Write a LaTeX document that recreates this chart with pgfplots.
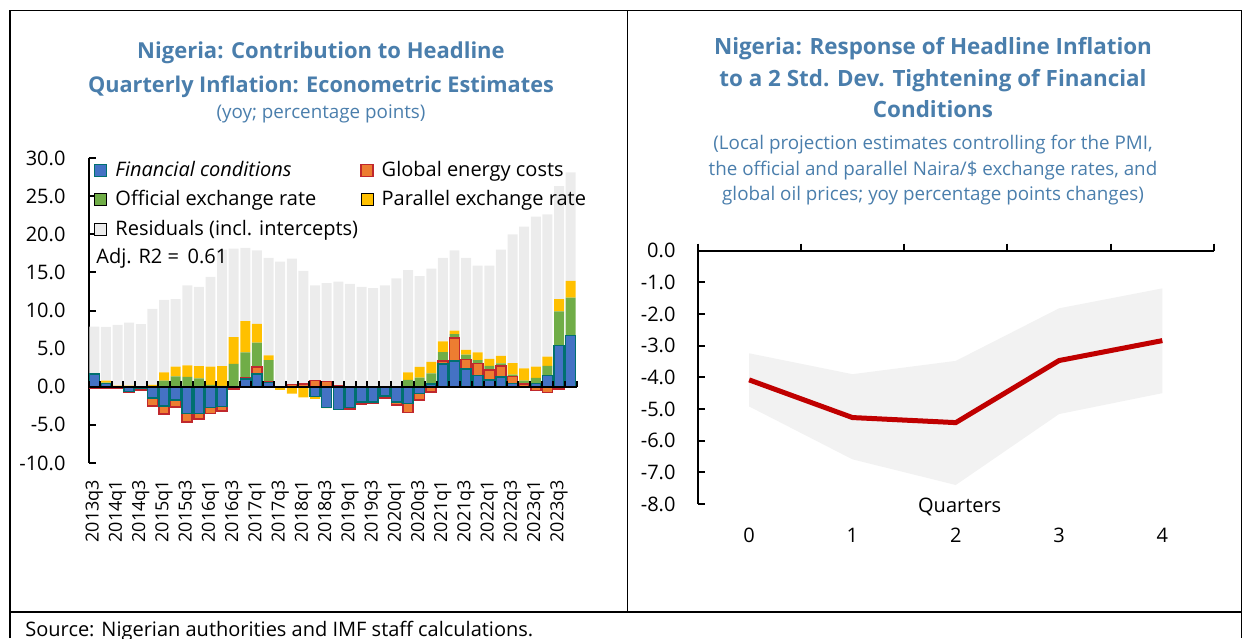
\documentclass[border=0pt]{standalone}
\usepackage{fontspec}
\setmainfont{Open Sans}
\usepackage{pgfplots}
\usepackage{pgfplotstable}
\pgfplotsset{compat=1.18}
\definecolor{ttl}{RGB}{74,126,172}
\definecolor{fcblue}{RGB}{68,114,196}
\definecolor{fcedge}{RGB}{0,112,112}
\definecolor{enorange}{RGB}{237,125,49}
\definecolor{enedge}{RGB}{192,40,45}
\definecolor{offgreen}{RGB}{112,173,71}
\definecolor{paryellow}{RGB}{255,192,0}
\definecolor{resgray}{RGB}{236,236,236}
\definecolor{bandgray}{RGB}{242,242,242}
\definecolor{irfred}{RGB}{192,0,0}

\pgfplotstableread{
i fcp ep op pp r fcn en on pn
0 1.7 0 0 0 6.2 0 -0.2 0 0
1 0.45 0 0.1 0.25 7.05 0 -0.15 0 0
2 0 0 0 0.15 7.95 0 -0.2 0 0
3 0 0 0 0.15 8.25 -0.6 -0.1 0 0
4 0 0 0 0 8.2 -0.15 -0.3 0 0
5 0 0 0 0.25 9.95 -1.5 -1.0 0 0
6 0 0 0.8 1.1 9.5 -2.5 -1.1 0 0
7 0 0 1.35 1.3 8.85 -1.75 -0.9 0 0
8 0 0 1.3 1.5 10.5 -3.5 -1.1 0 0
9 0 0 1.1 1.6 10.4 -3.5 -0.75 0 0
10 0 0 0.25 2.4 11.75 -2.7 -0.8 0 0
11 0 0 0.1 2.6 15.3 -2.6 -0.55 0 0
12 0 0 3.0 3.5 11.6 0 -0.3 0 0
13 1.0 0.2 3.3 4.1 9.6 0 0 0 0
14 1.7 0.9 3.2 2.45 9.65 0 0 0 0
15 0.55 0.15 2.8 0.6 12.8 0 0 0 0
16 0 0 0 0 16.4 0 -0.1 0 -0.3
17 0 0.3 0 0 16.5 0 0 0 -0.9
18 0 0.35 0 0 14.85 0 0 0 -1.4
19 0 0.8 0 0 12.5 -1.3 0 0 -0.3
20 0 0.7 0 0 12.9 -2.7 0 0 -0.1
21 0 0.1 0 0 13.7 -3.0 0 0 0
22 0 0 0 0 13.5 -2.7 -0.2 0 0
23 0 0 0 0 13.1 -2.0 -0.25 0 0
24 0 0 0 0 12.95 -2.0 -0.2 0 0
25 0 0 0 0 13.3 -1.2 -0.3 0 0
26 0 0 0 0 14.2 -2.0 -0.4 0 0
27 0 0 0.9 1.0 13.4 -2.2 -1.2 0 0
28 0 0 1.2 1.4 11.9 -0.9 -0.8 0 0
29 0.35 0 1.4 1.5 12.25 0 -0.7 0 0
30 3.0 0.35 1.2 1.4 10.95 0 0 0 0
31 3.4 3.0 0.5 0.45 10.55 0 0 0 0
32 2.3 1.3 0.6 0.65 12.05 0 0 0 0
33 1.45 1.6 0.45 1.0 11.4 0 0 0 0
34 0.9 1.3 0.55 0.9 12.25 0 0 0 0
35 1.3 1.45 0.3 1.0 13.95 0 0 0 0
36 0.45 0.9 0.25 1.5 16.9 0 0 0 0
37 0 0.35 0.45 1.6 18.6 0 0 0 0
38 0.45 0 0.7 1.5 19.65 0 -0.5 0 0
39 1.45 0 1.3 1.2 18.65 0 -0.75 0 0
40 5.4 0 4.5 1.6 14.8 0 -0.3 0 0
41 6.7 0 5.0 2.2 14.2 0 -0.1 0 0
}\contrib

\newcommand{\tickfont}{\fontsize{10}{12}\selectfont}
\begin{document}
\begin{tikzpicture}
\useasboundingbox (0,0) rectangle (621.5pt,319pt);
% frame
\draw[line width=0.8pt] (5pt,0) -- (5pt,313.65pt) -- (620.75pt,313.65pt) -- (620.75pt,0);
\draw[line width=0.8pt] (5pt,13.15pt) -- (620.75pt,13.15pt);
\draw[line width=0.8pt] (313.75pt,13.15pt) -- (313.75pt,313.65pt);
\node[anchor=base west, inner sep=0pt, font=\fontsize{10}{12}\selectfont] at (12.5pt,1pt) {Source: Nigerian authorities and IMF staff calculations.};

% left titles
\node[anchor=base, inner sep=0pt, text=ttl, font=\fontsize{11}{13}\selectfont\bfseries] at (160.5pt,289.5pt) {Nigeria: Contribution to Headline};
\node[anchor=base, inner sep=0pt, text=ttl, font=\fontsize{10.85}{13}\selectfont\bfseries] at (160.5pt,272.5pt) {Quarterly Inflation: Econometric Estimates};
\node[anchor=base, inner sep=0pt, text=ttl, font=\fontsize{9.4}{11}\selectfont] at (160.5pt,259.5pt) {(yoy; percentage points)};

% right titles
\node[anchor=base, inner sep=0pt, text=ttl, font=\fontsize{11.2}{13}\selectfont\bfseries] at (466.5pt,291.5pt) {Nigeria: Response of Headline Inflation};
\node[anchor=base, inner sep=0pt, text=ttl, font=\fontsize{11.2}{13}\selectfont\bfseries] at (466.5pt,275.5pt) {to a 2 Std. Dev. Tightening of Financial};
\node[anchor=base, inner sep=0pt, text=ttl, font=\fontsize{11.2}{13}\selectfont\bfseries] at (466.5pt,260pt) {Conditions};
\node[anchor=base, inner sep=0pt, text=ttl, font=\fontsize{9.4}{11}\selectfont] at (466.5pt,244.2pt) {(Local projection estimates controlling for the PMI,};
\node[anchor=base, inner sep=0pt, text=ttl, font=\fontsize{9.4}{11}\selectfont] at (466.5pt,231.2pt) {the official and parallel Naira/\$ exchange rates, and};
\node[anchor=base, inner sep=0pt, text=ttl, font=\fontsize{9.4}{11}\selectfont] at (466.5pt,218.7pt) {global oil prices; yoy percentage points changes)};

% ---------- left chart: positive contributions ----------
\begin{axis}[
  at={(44.25pt,87.5pt)}, anchor=south west,
  width=244pt, height=152.5pt, scale only axis,
  xmin=-0.5, xmax=41.5, ymin=-10, ymax=30,
  ybar stacked, bar width=0.86,
  axis y line*=left, axis x line*=bottom,
  x axis line style={draw=none},
  y axis line style={line width=1pt},
  ytick={-10,-5,...,30},
  ytick align=inside, major tick length=3.5pt,
  ytick style={black, line width=1pt},
  yticklabel style={font=\tickfont, xshift=-8pt, /pgf/number format/.cd, fixed, fixed zerofill, precision=1, assume math mode=true},
  xtick={0,2,...,40},
  xticklabels={2013q3,2014q1,2014q3,2015q1,2015q3,2016q1,2016q3,2017q1,2017q3,2018q1,2018q3,2019q1,2019q3,2020q1,2020q3,2021q1,2021q3,2022q1,2022q3,2023q1,2023q3},
  major x tick style={draw=none},
  xticklabel style={font=\fontsize{9}{11}\selectfont, rotate=90, anchor=east, xshift=-5pt},
  legend columns=2,
  legend cell align=left,
  legend image code/.code={\draw[#1] (0pt,-3pt) rectangle (6pt,3pt); \path (8pt,0pt);},
  legend style={at={(rel axis cs:0,1)}, anchor=north west, xshift=2.5pt, yshift=0.5pt, inner sep=0pt, draw=none, fill=none, font=\tickfont, row sep=1.5pt, /tikz/every even column/.append style={column sep=-1pt}},
]
\addplot[fill=fcblue, draw=fcedge, line width=0.8pt] table[x=i,y=fcp]{\contrib};
\addlegendentry{\textit{Financial conditions}}
\addplot[fill=enorange, draw=enedge, line width=0.8pt] table[x=i,y=ep]{\contrib};
\addlegendentry{Global energy costs}
\addplot[fill=offgreen, draw=none] table[x=i,y=op]{\contrib};
\addlegendentry{Official exchange rate}
\addplot[fill=paryellow, draw=none] table[x=i,y=pp]{\contrib};
\addlegendentry{Parallel exchange rate}
\addplot[fill=resgray, draw=none] table[x=i,y=r]{\contrib};
\addlegendentry{Residuals (incl. intercepts)}
\end{axis}

% ---------- left chart: negative contributions and zero line ----------
\begin{axis}[
  at={(44.25pt,87.5pt)}, anchor=south west,
  width=244pt, height=152.5pt, scale only axis,
  xmin=-0.5, xmax=41.5, ymin=-10, ymax=30,
  ybar stacked, bar width=0.86,
  axis x line=middle, axis y line=none,
  axis line style={-, line width=1.2pt},
  xtick={-0.5,0.5,...,41.5}, xticklabel=\empty, ytick=\empty,
  xtick align=inside, major tick length=3pt,
  xtick style={black, line width=1pt},
  axis on top,
]
\addplot[fill=fcblue, draw=fcedge, line width=0.8pt] table[x=i,y=fcn]{\contrib};
\addplot[fill=enorange, draw=enedge, line width=0.8pt] table[x=i,y=en]{\contrib};
\addplot[fill=offgreen, draw=none] table[x=i,y=on]{\contrib};
\addplot[fill=paryellow, draw=none] table[x=i,y=pn]{\contrib};
\end{axis}
\node[anchor=west, inner sep=0pt, font=\tickfont] at (48pt,190pt) {Adj. R2 = \,0.61};

% ---------- right chart ----------
\begin{axis}[
  at={(348.75pt,67pt)}, anchor=south west,
  width=258.25pt, height=126.67pt, scale only axis,
  xmin=-0.5, xmax=4.5, ymin=-8, ymax=0,
  axis y line*=left, axis x line*=bottom,
  x axis line style={draw=none},
  y axis line style={line width=1pt},
  ytick={-8,-7,...,0},
  ytick align=inside, major tick length=3.5pt,
  ytick style={black, line width=1pt},
  yticklabel style={font=\tickfont, xshift=-7.5pt, /pgf/number format/.cd, fixed, fixed zerofill, precision=1, assume math mode=true},
  xtick={0,1,2,3,4},
  major x tick style={draw=none},
  xticklabel style={font=\tickfont, anchor=base, yshift=-19pt, /pgf/number format/assume math mode=true},
]
\addplot[fill=bandgray, draw=none] coordinates {(0,-3.24) (1,-3.90) (2,-3.48) (3,-1.82) (4,-1.19) (4,-4.50) (3,-5.16) (2,-7.40) (1,-6.59) (0,-4.92)} -- cycle;
\addplot[irfred, line width=2.5pt] coordinates {(0,-4.08) (1,-5.27) (2,-5.43) (3,-3.47) (4,-2.84)};
\end{axis}
\begin{axis}[
  at={(348.75pt,67pt)}, anchor=south west,
  width=258.25pt, height=126.67pt, scale only axis,
  xmin=-0.5, xmax=4.5, ymin=-8, ymax=0,
  axis x line*=top, axis y line=none,
  axis line style={-, line width=1pt},
  xtick={-0.5,0.5,...,4.5}, xticklabel=\empty, ytick=\empty,
  xtick align=outside, major tick length=3.5pt,
  xtick style={black, line width=1pt},
]
\end{axis}
\node[anchor=base, inner sep=0pt, font=\tickfont] at (479.85pt,63pt) {Quarters};
\end{tikzpicture}
\end{document}
